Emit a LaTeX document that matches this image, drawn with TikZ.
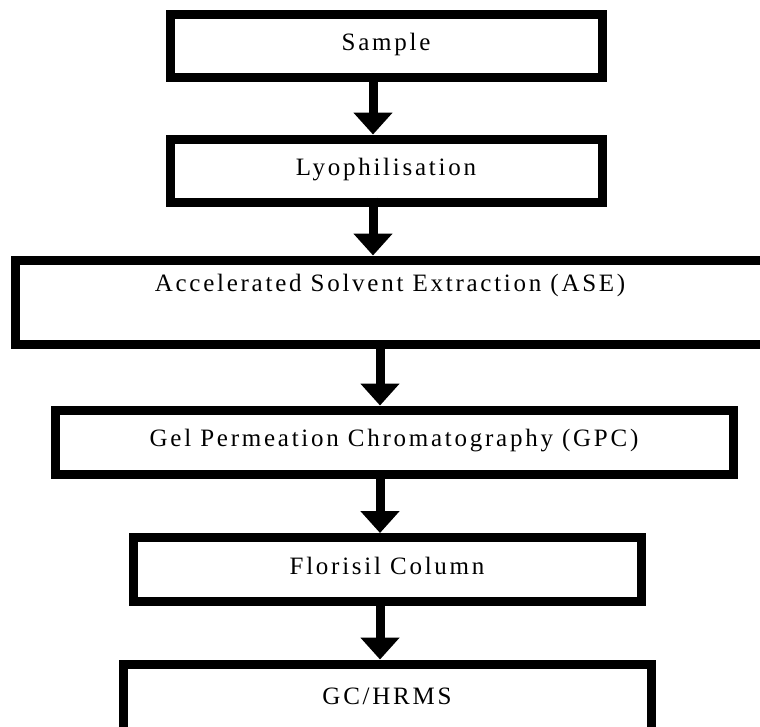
\documentclass[tikz,border=0pt]{standalone}
\usepackage{fontspec}
\newfontfamily\stagefont{Liberation Serif}[LetterSpace=11]
\usetikzlibrary{arrows.meta}

\tikzset{
  stage/.style={draw=black,line width=9pt,rectangle,align=center,
    font=\stagefont\fontsize{25}{30}\selectfont,text height=17pt,text depth=8pt},
  flow/.style={line width=9pt,-{Triangle[width=38pt,length=22pt]}}
}

\begin{document}
\begin{tikzpicture}[x=1pt,y=-1pt]

\useasboundingbox (0,0) rectangle (760,726);
\clip (0,0) rectangle (760,726);

\node (sample) at (386, 45.5) [stage,minimum width=432pt,minimum height=63pt]
{Sample};
\node (lyo) at (386, 170.5) [stage,minimum width=432pt,minimum height=63pt]
{Lyophilisation};
\node (ase) at (390, 302) [stage,minimum width=750pt,minimum height=84pt,text depth=38pt]
{Accelerated Solvent Extraction (ASE)};
\node (gpc) at (394, 442) [stage,minimum width=678pt,minimum height=64pt]
{Gel Permeation Chromatography (GPC)};
\node (florisil) at (387, 569.5) [stage,minimum width=508pt,minimum height=64pt]
{Florisil Column};
\node (gchrms) at (387, 700) [stage,minimum width=528pt,minimum height=72pt]
{GC/HRMS};

\coordinate (upper) at (373, 0);
\coordinate (lower) at (380, 0);

\draw[flow] (sample.south -| upper) -- (lyo.north -| upper);
\draw[flow] ([yshift=9pt]lyo.south -| upper) -- (ase.north -| upper);
\draw[flow] (ase.south -| lower) -- (gpc.north -| lower);
\draw[flow] (gpc.south -| lower) -- (florisil.north -| lower);
\draw[flow] (florisil.south -| lower) -- (gchrms.north -| lower);

\end{tikzpicture}
\end{document}
